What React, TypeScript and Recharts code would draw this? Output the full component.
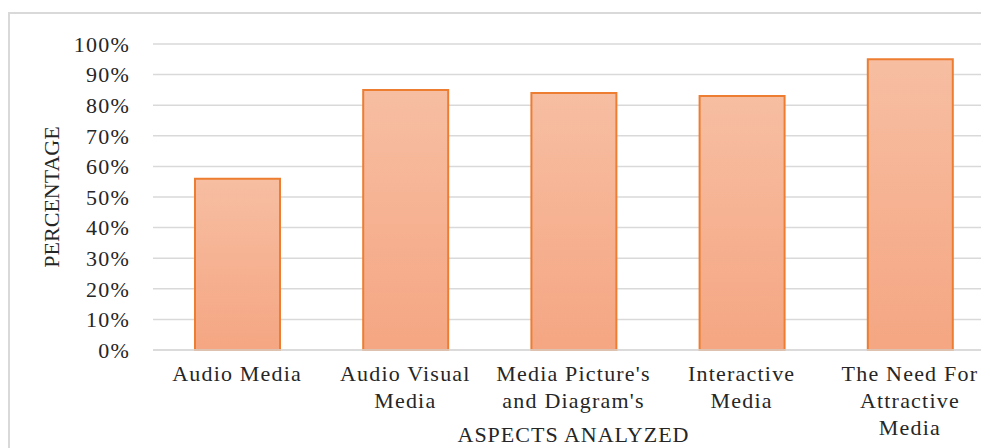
import React from "react";
import { BarChart, Bar, XAxis, YAxis, CartesianGrid, Label } from "recharts";

const categories = [
  "Audio Media",
  "Audio Visual\nMedia",
  "Media Picture's\nand Diagram's",
  "Interactive\nMedia",
  "The Need For\nAttractive\nMedia",
];
const percentages = [0.56, 0.85, 0.84, 0.83, 0.95];
const yTicks = [0, 0.1, 0.2, 0.3, 0.4, 0.5, 0.6, 0.7, 0.8, 0.9, 1.0];
const xAxisTitle = "ASPECTS ANALYZED";
const yAxisTitle = "PERCENTAGE";

const data = categories.map((c, i) => ({ name: c, value: percentages[i] }));

const FONT = "'Liberation Serif', 'Times New Roman', serif";
const TEXT_COLOR = "#262626";

const XTick = (props: any) => {
  const { x, y, payload } = props;
  const lines = String(payload.value).split("\n");
  return (
    <text
      x={x}
      y={y + 31}
      textAnchor="middle"
      fontFamily={FONT}
      fontSize={22}
      letterSpacing={1.2}
      fill={TEXT_COLOR}
    >
      {lines.map((l, i) => (
        <tspan key={i} x={x} dy={i === 0 ? 0 : 27}>
          {l}
        </tspan>
      ))}
    </text>
  );
};

export default function App() {
  return (
    <div
      style={{
        position: "fixed",
        left: 0,
        top: 0,
        width: 981,
        height: 448,
        overflow: "hidden",
        background: "#fff",
      }}
    >
      <div
        style={{
          position: "absolute",
          left: 8,
          top: 12,
          width: 1100,
          height: 600,
          border: "2px solid #D9D9D9",
          boxSizing: "border-box",
        }}
      />
      <div style={{ position: "absolute", left: 0, top: 0 }}>
        <BarChart
          width={1000}
          height={448}
          data={data}
          margin={{ top: 44, right: 6, left: 0, bottom: 0 }}
        >
          <defs>
            <linearGradient id="barGrad" x1="0" y1="0" x2="0" y2="1">
              <stop offset="0%" stopColor="#F7BEA2" />
              <stop offset="100%" stopColor="#F5A682" />
            </linearGradient>
          </defs>
          <CartesianGrid
            vertical={false}
            stroke="#D9D9D9"
            strokeWidth={1.5}
          />
          <XAxis
            dataKey="name"
            height={98}
            tickLine={false}
            axisLine={{ stroke: "#D9D9D9", strokeWidth: 1.5 }}
            tickSize={0}
            tickMargin={0}
            interval={0}
            tick={<XTick />}
          >
            <Label
              content={(p: any) => {
                const vb = p.viewBox || { x: 153, y: 350, width: 841 };
                return (
                  <text
                    x={vb.x + vb.width / 2}
                    y={vb.y + 92}
                    textAnchor="middle"
                    fontFamily={FONT}
                    fontSize={22}
                    letterSpacing={1.0}
                    fill={TEXT_COLOR}
                  >
                    {xAxisTitle}
                  </text>
                );
              }}
            />
          </XAxis>
          <YAxis
            width={153}
            domain={[0, 1]}
            ticks={yTicks}
            interval={0}
            tickLine={false}
            axisLine={false}
            tickSize={0}
            tickMargin={23}
            tickFormatter={(v: number) => `${Math.round(v * 100)}%`}
            tick={{
              fontFamily: FONT,
              fontSize: 22,
              fill: TEXT_COLOR,
              letterSpacing: 1.2,
            }}
          >
            <Label
              content={(p: any) => {
                const vb = p.viewBox || { x: 0, y: 44, width: 153, height: 306 };
                const cx = 59;
                const cy = vb.y + vb.height / 2;
                return (
                  <text
                    x={cx}
                    y={cy}
                    textAnchor="middle"
                    transform={`rotate(-90, ${cx}, ${cy})`}
                    fontFamily={FONT}
                    fontSize={22}
                    fill={TEXT_COLOR}
                  >
                    {yAxisTitle}
                  </text>
                );
              }}
            />
          </YAxis>
          <Bar
            dataKey="value"
            barSize={85}
            fill="url(#barGrad)"
            stroke="#ED7D31"
            strokeWidth={2}
            isAnimationActive={false}
          />
        </BarChart>
      </div>
    </div>
  );
}
